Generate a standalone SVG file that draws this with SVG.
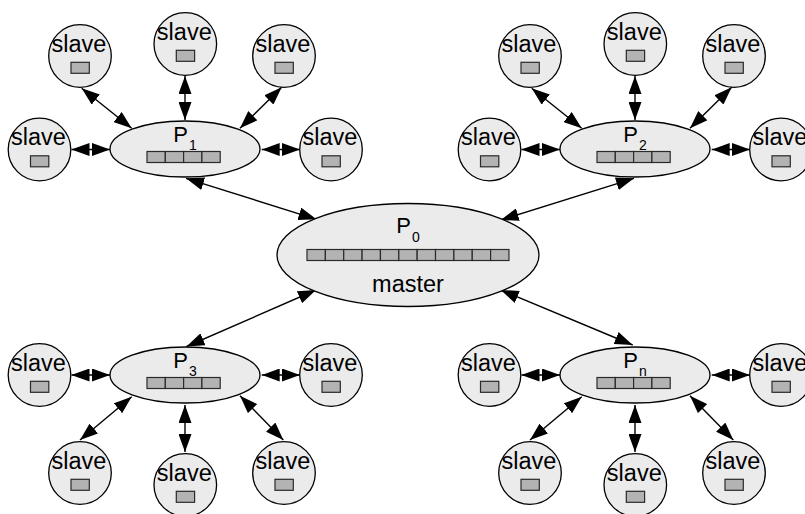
<svg xmlns="http://www.w3.org/2000/svg" width="805" height="514" viewBox="0 0 805 514">
  <style>
    .shape { fill: #ebebeb; stroke: #000; stroke-width: 1.3; }
    .cell { fill: #b3b3b3; stroke: #2a2a2a; stroke-width: 1.2; }
    .lbl { font-family: "Liberation Sans", Arial, sans-serif; font-size: 23.5px; fill: #000; text-anchor: middle; }
    .plbl { font-family: "Liberation Sans", Arial, sans-serif; font-size: 22px; fill: #000; }
    .sub { font-size: 14px; }
    .edge { stroke: #000; stroke-width: 1.4; fill: none; marker-start: url(#head); marker-end: url(#head); }
  </style>
  <defs>
    <marker id="head" markerUnits="userSpaceOnUse" markerWidth="18" markerHeight="13" viewBox="0 0 18 13" refX="18" refY="6.5" orient="auto-start-reverse">
      <path d="M0,0 L18,6.5 L0,13 z" fill="#000"/>
    </marker>
    <!-- worker node: circle, caption and one-slot buffer -->
    <g id="slave-shape">
      <circle r="31.3" class="shape"/>
      <text x="-1" y="-4.5" class="lbl">slave</text>
      <rect x="-9" y="6.3" width="18.3" height="11" class="cell"/>
    </g>
    <!-- four-slot buffer used by the sub-masters -->
    <g id="buf4">
      <rect x="0" y="0" width="18.3" height="11" class="cell"/>
      <rect x="18.3" y="0" width="18.3" height="11" class="cell"/>
      <rect x="36.6" y="0" width="18.3" height="11" class="cell"/>
      <rect x="54.9" y="0" width="18.3" height="11" class="cell"/>
    </g>
  </defs>

  <!-- connectors -->
  <g id="connectors">
    <!-- master to sub-masters -->
    <line class="edge" x1="186" y1="178.3" x2="316.5" y2="219.3"/>
    <line class="edge" x1="634" y1="178.3" x2="500.7" y2="220"/>
    <line class="edge" x1="186.5" y1="346.5" x2="316" y2="290"/>
    <line class="edge" x1="632.7" y1="345" x2="500.7" y2="290"/>
    <!-- P1 workers -->
    <line class="edge" x1="71.5" y1="149.5" x2="110" y2="149.5"/>
    <line class="edge" x1="81.7" y1="88.3" x2="131.7" y2="128.3"/>
    <line class="edge" x1="185" y1="76" x2="185" y2="120"/>
    <line class="edge" x1="281.7" y1="87.3" x2="240" y2="128.3"/>
    <line class="edge" x1="261.7" y1="149.5" x2="300" y2="149.5"/>
    <!-- P2 workers -->
    <line class="edge" x1="521.5" y1="149.5" x2="560" y2="149.5"/>
    <line class="edge" x1="531.7" y1="88.3" x2="581.7" y2="128.3"/>
    <line class="edge" x1="635" y1="76" x2="635" y2="120"/>
    <line class="edge" x1="731.7" y1="87.3" x2="690" y2="128.3"/>
    <line class="edge" x1="711.7" y1="149.5" x2="750" y2="149.5"/>
    <!-- P3 workers -->
    <line class="edge" x1="71.5" y1="375" x2="110" y2="375"/>
    <line class="edge" x1="131.7" y1="396.7" x2="80" y2="440"/>
    <line class="edge" x1="185" y1="405" x2="185" y2="452"/>
    <line class="edge" x1="240" y1="395.7" x2="283.3" y2="440"/>
    <line class="edge" x1="261.7" y1="375" x2="300" y2="375"/>
    <!-- Pn workers -->
    <line class="edge" x1="521.5" y1="375" x2="560" y2="375"/>
    <line class="edge" x1="581.7" y1="396.7" x2="530" y2="440"/>
    <line class="edge" x1="635" y1="405" x2="635" y2="452"/>
    <line class="edge" x1="690" y1="395.7" x2="733.3" y2="440"/>
    <line class="edge" x1="711.7" y1="375" x2="750" y2="375"/>
  </g>

  <!-- master -->
  <g id="master">
    <ellipse cx="408" cy="255" rx="131" ry="51.5" class="shape"/>
    <text x="396.2" y="233" class="plbl">P<tspan x="412" y="242" class="sub">0</tspan></text>
    <g transform="translate(307,249.5)">
      <rect x="0" y="0" width="18.36" height="11" class="cell"/>
      <rect x="18.36" y="0" width="18.36" height="11" class="cell"/>
      <rect x="36.72" y="0" width="18.36" height="11" class="cell"/>
      <rect x="55.08" y="0" width="18.36" height="11" class="cell"/>
      <rect x="73.44" y="0" width="18.36" height="11" class="cell"/>
      <rect x="91.8" y="0" width="18.36" height="11" class="cell"/>
      <rect x="110.16" y="0" width="18.36" height="11" class="cell"/>
      <rect x="128.52" y="0" width="18.36" height="11" class="cell"/>
      <rect x="146.88" y="0" width="18.36" height="11" class="cell"/>
      <rect x="165.24" y="0" width="18.36" height="11" class="cell"/>
      <rect x="183.6" y="0" width="18.36" height="11" class="cell"/>
    </g>
    <text x="408" y="292" class="lbl">master</text>
  </g>

  <!-- sub-masters -->
  <g id="p1">
    <ellipse cx="185" cy="149" rx="75" ry="28" class="shape"/>
    <text x="173.3" y="142" class="plbl">P<tspan x="189" y="150" class="sub">1</tspan></text>
    <use href="#buf4" x="147" y="151.5"/>
  </g>
  <g id="p2">
    <ellipse cx="635" cy="149" rx="75" ry="28" class="shape"/>
    <text x="623.3" y="142" class="plbl">P<tspan x="639" y="150" class="sub">2</tspan></text>
    <use href="#buf4" x="597" y="151.5"/>
  </g>
  <g id="p3">
    <ellipse cx="185" cy="375" rx="75" ry="28" class="shape"/>
    <text x="173.3" y="368" class="plbl">P<tspan x="189" y="376" class="sub">3</tspan></text>
    <use href="#buf4" x="147" y="377.5"/>
  </g>
  <g id="pn">
    <ellipse cx="635" cy="375" rx="75" ry="28" class="shape"/>
    <text x="623.3" y="368" class="plbl">P<tspan x="639" y="376" class="sub">n</tspan></text>
    <use href="#buf4" x="597" y="377.5"/>
  </g>

  <!-- workers of P1 -->
  <g id="p1-w1"><use href="#slave-shape" x="39.5" y="149.5"/></g>
  <g id="p1-w2"><use href="#slave-shape" x="80" y="56"/></g>
  <g id="p1-w3"><use href="#slave-shape" x="185.3" y="44"/></g>
  <g id="p1-w4"><use href="#slave-shape" x="284" y="56"/></g>
  <g id="p1-w5"><use href="#slave-shape" x="331" y="149.5"/></g>
  <!-- workers of P2 -->
  <g id="p2-w1"><use href="#slave-shape" x="489.5" y="149.5"/></g>
  <g id="p2-w2"><use href="#slave-shape" x="530" y="56"/></g>
  <g id="p2-w3"><use href="#slave-shape" x="635.3" y="44"/></g>
  <g id="p2-w4"><use href="#slave-shape" x="734" y="56"/></g>
  <g id="p2-w5"><use href="#slave-shape" x="781" y="149.5"/></g>
  <!-- workers of P3 -->
  <g id="p3-w1"><use href="#slave-shape" x="39.5" y="375"/></g>
  <g id="p3-w2"><use href="#slave-shape" x="80" y="473"/></g>
  <g id="p3-w3"><use href="#slave-shape" x="185.3" y="485"/></g>
  <g id="p3-w4"><use href="#slave-shape" x="284" y="473"/></g>
  <g id="p3-w5"><use href="#slave-shape" x="331" y="375"/></g>
  <!-- workers of Pn -->
  <g id="pn-w1"><use href="#slave-shape" x="489.5" y="375"/></g>
  <g id="pn-w2"><use href="#slave-shape" x="530" y="473"/></g>
  <g id="pn-w3"><use href="#slave-shape" x="635.3" y="485"/></g>
  <g id="pn-w4"><use href="#slave-shape" x="734" y="473"/></g>
  <g id="pn-w5"><use href="#slave-shape" x="781" y="375"/></g>
</svg>
